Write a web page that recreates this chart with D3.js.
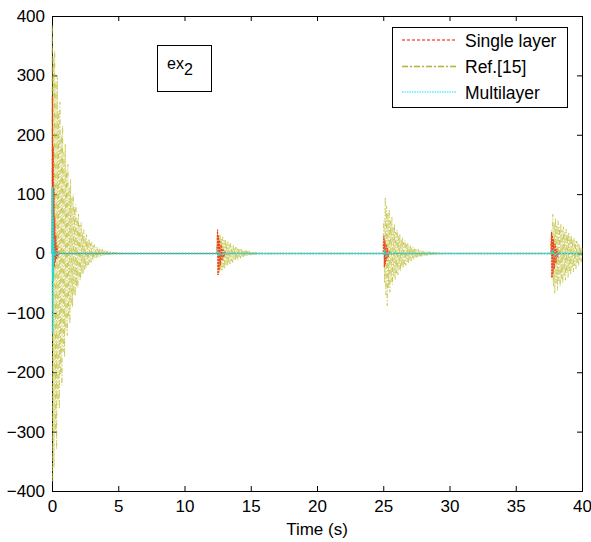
<!DOCTYPE html>
<html>
<head>
<meta charset="utf-8">
<script src="https://cdn.jsdelivr.net/npm/d3@7"></script>
<style>
  body { margin: 0; background: #fff; }
  text { font-family: "Liberation Sans", Arial, sans-serif; }
</style>
</head>
<body>
<svg id="chart" width="591" height="542"></svg>
<script>
// ---------------- data ----------------
const xTicks = [0, 5, 10, 15, 20, 25, 30, 35, 40];
const yTicks = [-400, -300, -200, -100, 0, 100, 200, 300, 400];
const seriesNames = ["Single layer", "Ref.[15]", "Multilayer"];

// Ref.[15] : oscillation extrema [time (s), value]
const ref15Points = [
  [0.00,0],[0.02,385],[0.05,-385],[0.10,330],[0.15,-360],[0.20,342],[0.25,-300],[0.30,290],[0.35,-330],
  [0.40,300],[0.45,-250],[0.50,240],[0.55,-262],[0.60,255],[0.65,-205],[0.70,200],[0.75,-222],
  [0.80,215],[0.85,-165],[0.90,170],[0.95,-175],[1.00,185],[1.05,-130],[1.10,140],[1.15,-138],
  [1.20,150],[1.25,-110],[1.30,112],[1.35,-118],[1.40,125],[1.45,-88],[1.50,95],[1.55,-90],
  [1.60,100],[1.65,-70],[1.70,78],[1.75,-72],[1.80,82],[1.85,-56],[1.90,60],[1.95,-58],
  [2.00,66],[2.05,-44],[2.10,48],[2.15,-45],[2.20,52],[2.25,-35],[2.30,36],[2.35,-34],
  [2.40,40],[2.45,-27],[2.50,28],[2.55,-26],[2.60,32],[2.65,-20],[2.70,22],[2.75,-19],
  [2.80,25],[2.85,-15],[2.90,17],[2.95,-15],[3.00,19],[3.05,-11],[3.10,13],[3.15,-11],
  [3.20,15],[3.25,-8],[3.30,10],[3.35,-8.5],[3.40,11],[3.45,-6],[3.50,8],[3.55,-6.5],
  [3.60,9],[3.65,-4.5],[3.70,6],[3.75,-4.5],[3.80,7],[3.85,-3.5],[3.90,4.5],[3.95,-3.5],
  [4.00,5],[4.05,-2.8],[4.10,3.5],[4.15,-2.6],[4.20,4],[4.25,-2.2],[4.30,2.8],[4.35,-2],
  [4.40,3],[4.45,-1.6],[4.50,2.2],[4.55,-1.5],[4.60,2.5],[4.65,-1.2],[4.70,1.8],[4.75,-1.2],
  [4.80,2],[4.85,-1],[4.90,1.4],[4.95,-1],[5.00,1.5],[5.30,-0.8],[5.60,0.6],[6.00,-0.4],[7.00,0],
  [12.40,0],[12.48,38],[12.53,-36],[12.58,30],[12.63,-33],[12.68,33],[12.73,-27],[12.78,26],
  [12.83,-30],[12.88,28],[12.93,-23],[12.98,22],[13.03,-26],[13.08,24],[13.13,-19],[13.18,18],
  [13.23,-21],[13.28,20],[13.33,-16],[13.38,15],[13.43,-18],[13.48,17],[13.53,-13],[13.58,12],
  [13.63,-15],[13.68,14],[13.73,-10],[13.78,10],[13.83,-12],[13.88,11],[13.93,-8],[13.98,8],
  [14.03,-10],[14.08,9],[14.13,-7],[14.18,6.5],[14.23,-8],[14.28,7],[14.33,-5.5],[14.38,5.5],
  [14.43,-6],[14.48,6],[14.53,-4.5],[14.58,4.5],[14.63,-5],[14.68,5],[14.73,-3.5],[14.78,3.5],
  [14.83,-4],[14.88,4],[14.93,-3],[14.98,3],[15.03,-3],[15.08,3],[15.13,-2.2],[15.18,2.2],
  [15.23,-2.5],[15.28,2.5],[15.33,-1.8],[15.38,1.8],[15.43,-2],[15.48,2],[15.60,-1.5],
  [15.80,1],[16.00,-0.5],[17.00,0],
  [24.95,0],[25.05,55],[25.10,-50],[25.15,95],[25.20,-70],[25.25,80],[25.30,-88],[25.35,68],
  [25.40,-58],[25.45,75],[25.50,-65],[25.55,55],[25.60,-48],[25.65,62],[25.70,-52],[25.75,45],
  [25.80,-40],[25.85,50],[25.90,-44],[25.95,36],[26.00,-33],[26.05,40],[26.10,-36],[26.15,29],
  [26.20,-27],[26.25,33],[26.30,-30],[26.35,24],[26.40,-22],[26.45,27],[26.50,-25],[26.55,19],
  [26.60,-18],[26.65,22],[26.70,-20],[26.75,15],[26.80,-14],[26.85,18],[26.90,-16],[26.95,12],
  [27.00,-11],[27.05,14],[27.10,-13],[27.15,9.5],[27.20,-9],[27.25,11],[27.30,-10],[27.35,8],
  [27.40,-7],[27.45,9],[27.50,-8],[27.55,6],[27.60,-5.5],[27.65,7],[27.70,-6],[27.75,5],
  [27.80,-4.5],[27.85,6],[27.90,-5],[27.95,4],[28.00,-3.5],[28.05,5],[28.10,-4],[28.15,3.2],
  [28.20,-3],[28.25,4],[28.30,-3.5],[28.35,3],[28.40,-2.6],[28.45,3.5],[28.50,-3],[28.55,2.5],
  [28.60,-2.2],[28.65,3],[28.70,-2.5],[28.75,2],[28.80,-1.8],[28.85,2.5],[28.90,-2],[28.95,1.6],
  [29.00,-1.5],[29.05,2],[29.10,-1.5],[29.20,1.5],[29.30,-1],[29.50,0.5],[30.00,0],
  [37.60,0],[37.70,40],[37.75,-45],[37.80,66],[37.85,-55],[37.90,52],[37.95,-68],[38.00,60],
  [38.05,-50],[38.10,48],[38.15,-62],[38.20,55],[38.25,-46],[38.30,44],[38.35,-56],[38.40,50],
  [38.45,-42],[38.50,40],[38.55,-50],[38.60,45],[38.65,-37],[38.70,36],[38.75,-45],[38.80,41],
  [38.85,-33],[38.90,32],[38.95,-41],[39.00,36],[39.05,-29],[39.10,28],[39.15,-36],[39.20,31],
  [39.25,-25],[39.30,24],[39.35,-31],[39.40,26],[39.45,-21],[39.50,20],[39.55,-26],[39.60,21],
  [39.65,-16],[39.70,16],[39.75,-20],[39.80,16],[39.85,-12],[39.90,11],[39.95,-14],[40.00,11]
];

// Single layer [time (s), value]
const singlePoints = [
  [0.00,0],[0.03,265],[0.06,-30],[0.09,180],[0.12,-28],[0.15,110],[0.18,-22],[0.21,60],[0.25,-15],
  [0.29,30],[0.33,-10],[0.37,12],[0.43,-5],[0.50,3],[0.60,0],
  [12.45,0],[12.50,40],[12.53,-36],[12.57,30],[12.61,-28],[12.66,22],[12.71,-20],[12.77,14],
  [12.83,-12],[12.90,8],[12.97,-6],[13.05,3],[13.15,0],
  [25.00,0],[25.05,29],[25.08,-23],[25.12,22],[25.16,-18],[25.21,15],[25.26,-12],[25.32,9],
  [25.38,-6],[25.45,3],[25.55,0],
  [37.65,0],[37.70,36],[37.73,-41],[37.77,30],[37.81,-34],[37.86,24],[37.91,-26],[37.97,16],
  [38.03,-16],[38.10,8],[38.17,-6],[38.25,2],[38.35,0],[40.00,0]
];

// Multilayer [time (s), value]
const multiPoints = [
  [0.00,0],[0.03,112],[0.05,-134],[0.07,60],[0.09,-45],[0.12,25],[0.15,-15],[0.19,8],[0.23,-4],
  [0.30,2],[0.40,0],
  [12.45,0],[12.50,3],[12.60,-3],[12.80,0],[25.00,0],[25.10,4],[25.20,-4],[25.40,0],
  [37.70,0],[37.80,4],[37.90,-4],[38.10,0],[40.00,0]
];

// ---------------- chart ----------------
const svg = d3.select("#chart");
const W = 591, H = 542;
const m = { left: 52, right: 582, top: 16, bottom: 491 };

svg.append("rect").attr("width", W).attr("height", H).attr("fill", "#fff");

const x = d3.scaleLinear().domain([0, 40]).range([m.left, m.right]);
const y = d3.scaleLinear().domain([-400, 400]).range([m.bottom, m.top]);

// axes (drawn below the data, like MATLAB's default layer)
const axisFont = "17px";
const xAxisB = d3.axisBottom(x).tickValues(xTicks).tickSize(-5).tickPadding(9).tickFormat(d3.format("d"));
const xAxisT = d3.axisTop(x).tickValues(xTicks).tickSize(-5).tickFormat("");
const yAxisL = d3.axisLeft(y).tickValues(yTicks).tickSize(-5).tickPadding(7).tickFormat(d3.format("d"));
const yAxisR = d3.axisRight(y).tickValues(yTicks).tickSize(-5).tickFormat("");

function style(sel) {
  sel.select(".domain").attr("stroke", "#000").attr("stroke-width", 1);
  sel.selectAll(".tick line").attr("stroke", "#000");
  sel.selectAll(".tick text").attr("fill", "#000")
    .style("font-family", "'Liberation Sans', Arial, sans-serif").style("font-size", axisFont);
}
svg.append("g").attr("transform", `translate(0,${m.bottom})`).call(xAxisB).call(style);
svg.append("g").attr("transform", `translate(0,${m.top})`).call(xAxisT).call(style);
svg.append("g").attr("transform", `translate(${m.left},0)`).call(yAxisL).call(style);
svg.append("g").attr("transform", `translate(${m.right},0)`).call(yAxisR).call(style);

svg.append("clipPath").attr("id", "clip")
  .append("rect").attr("x", m.left - 1).attr("y", m.top - 1)
  .attr("width", m.right - m.left + 2).attr("height", m.bottom - m.top + 2);

const line = d3.line().x(d => x(d[0])).y(d => y(d[1]));
const g = svg.append("g").attr("clip-path", "url(#clip)");

g.append("path").datum(ref15Points)
  .attr("d", line).attr("fill", "none")
  .attr("stroke", "#c0c03c").attr("stroke-width", 0.7)
  .attr("stroke-dasharray", "5,2,1,2");

g.append("path").datum(singlePoints)
  .attr("d", line).attr("fill", "none")
  .attr("stroke", "#f03a1a").attr("stroke-width", 1)
  .attr("stroke-dasharray", "2,1");

g.append("path").datum(multiPoints)
  .attr("d", line).attr("fill", "none")
  .attr("stroke", "#2ad8cc").attr("stroke-width", 1.8)
  .attr("stroke-dasharray", "2,1");

// x label
svg.append("text").attr("x", (m.left + m.right) / 2).attr("y", 535)
  .attr("text-anchor", "middle").style("font-size", "17px").text("Time (s)");

// ex2 box
svg.append("rect").attr("x", 157.5).attr("y", 45.5).attr("width", 54).attr("height", 46)
  .attr("fill", "#fff").attr("stroke", "#000");
const ex = svg.append("text").attr("x", 167).attr("y", 69).style("font-size", "16px");
ex.append("tspan").text("ex");
ex.append("tspan").attr("dy", 6).text("2");

// legend
const legX = 392, legY = 27;
svg.append("rect").attr("x", legX + 0.5).attr("y", legY + 0.5).attr("width", 175).attr("height", 80)
  .attr("fill", "#fff").attr("stroke", "#000");
const legStyles = [
  { color: "#ff0000", dash: "3,2", w: 1 },
  { color: "#b2b236", dash: "6,2,2,2", w: 1.5 },
  { color: "#00e8ff", dash: "1.5,1", w: 1 }
];
const legRowY = [40, 66.5, 92];
seriesNames.forEach((name, i) => {
  svg.append("line").attr("x1", 402).attr("x2", 457)
    .attr("y1", legRowY[i]).attr("y2", legRowY[i])
    .attr("stroke", legStyles[i].color).attr("stroke-width", legStyles[i].w)
    .attr("stroke-dasharray", legStyles[i].dash);
  svg.append("text").attr("x", 465).attr("y", legRowY[i] + 6.5)
    .style("font-size", "17.5px").text(name);
});
</script>
</body>
</html>
